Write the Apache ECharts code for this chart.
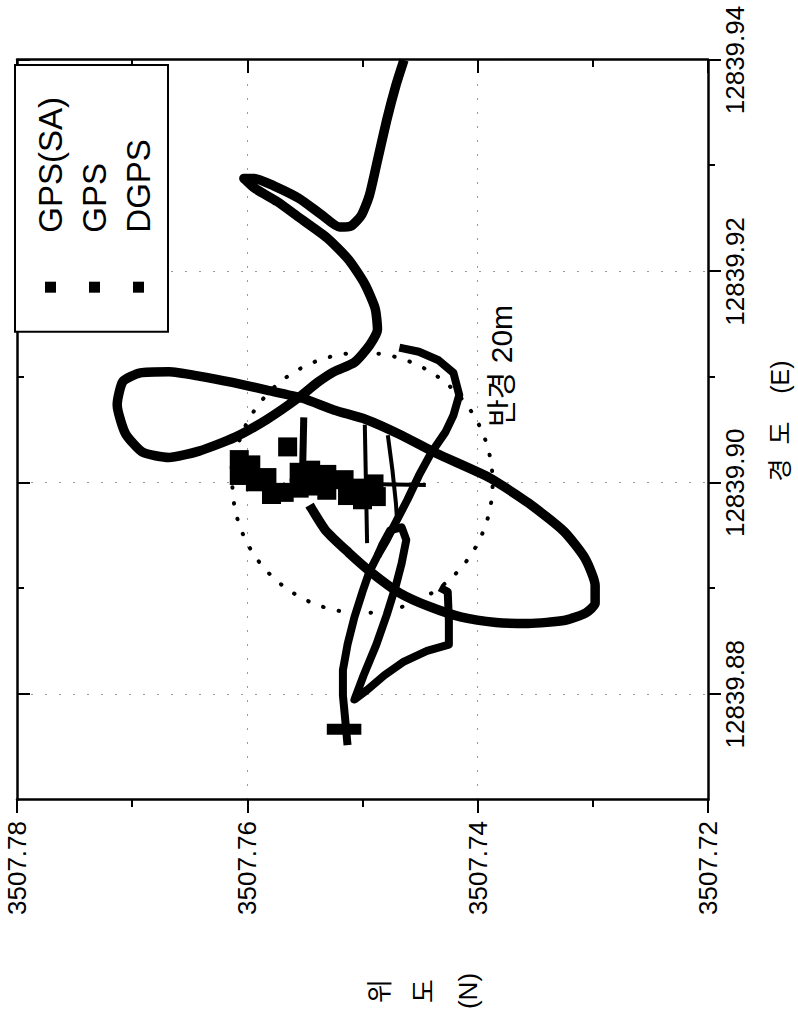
<!DOCTYPE html>
<html>
<head>
<meta charset="utf-8">
<title>GPS track</title>
<script src="https://cdn.jsdelivr.net/npm/echarts@6.0.0/dist/echarts.min.js"></script>
<style>
  html, body { margin: 0; padding: 0; width: 798px; height: 1019px; overflow: hidden; background: #fff; }
  /* the figure is printed turned a quarter turn to the left */
  #chart {
    position: absolute; left: 0; top: 0;
    width: 1019px; height: 798px;
    transform-origin: 0 0;
    transform: translateY(1019px) rotate(-90deg);
  }
</style>
</head>
<body>
<div id="chart"></div>
<script>
// axis ticks
const lonMajor = [12839.88, 12839.90, 12839.92, 12839.94];
const lonMinor = [12839.89, 12839.91, 12839.93];

// GPS(SA) track
const saLon = [12839.9400, 12839.9376, 12839.9343, 12839.9305, 12839.9272, 12839.9253, 12839.9243, 12839.9242, 12839.9254, 12839.9269,
  12839.9281, 12839.9288, 12839.9288, 12839.9279, 12839.9266, 12839.9251, 12839.9232, 12839.9211, 12839.9188, 12839.9165,
  12839.9145, 12839.9130, 12839.9114, 12839.9105, 12839.9095, 12839.9081, 12839.9060, 12839.9043, 12839.9030, 12839.9024,
  12839.9029, 12839.9047, 12839.9074, 12839.9096, 12839.9104, 12839.9105, 12839.9101, 12839.9095, 12839.9088, 12839.9080,
  12839.9069, 12839.9060, 12839.9046, 12839.9028, 12839.9005, 12839.8981, 12839.8954, 12839.8929, 12839.8903, 12839.8886,
  12839.8877, 12839.8870, 12839.8867, 12839.8868, 12839.8873, 12839.8883, 12839.8896, 12839.8915, 12839.8934, 12839.8955,
  12839.8979];
const saLat = [3507.7464, 3507.7471, 3507.7479, 3507.7487, 3507.7494, 3507.7501, 3507.7510, 3507.7520, 3507.7536, 3507.7555,
  3507.7577, 3507.7594, 3507.7603, 3507.7594, 3507.7574, 3507.7555, 3507.7531, 3507.7512, 3507.7498, 3507.7489,
  3507.7487, 3507.7494, 3507.7507, 3507.7525, 3507.7539, 3507.7555, 3507.7583, 3507.7611, 3507.7642, 3507.7668,
  3507.7691, 3507.7706, 3507.7713, 3507.7708, 3507.7693, 3507.7668, 3507.7642, 3507.7613, 3507.7584, 3507.7552,
  3507.7525, 3507.7497, 3507.7468, 3507.7436, 3507.7390, 3507.7356, 3507.7325, 3507.7307, 3507.7298, 3507.7298,
  3507.7306, 3507.7324, 3507.7356, 3507.7384, 3507.7414, 3507.7442, 3507.7468, 3507.7492, 3507.7512, 3507.7532,
  3507.7546];

// GPS track, in pieces
const gps1Lon = [12839.9128, 12839.9124, 12839.9116, 12839.9104, 12839.9083, 12839.9064, 12839.9048, 12839.9029, 12839.9007, 12839.8984,
  12839.8963, 12839.8946, 12839.8931, 12839.8916, 12839.8897, 12839.8873, 12839.8847, 12839.8823, 12839.8799, 12839.8776, 12839.8752];
const gps1Lat = [3507.7468, 3507.7451, 3507.7434, 3507.7421, 3507.7416, 3507.7421, 3507.7428, 3507.7440, 3507.7451, 3507.7461,
  3507.7471, 3507.7479, 3507.7487, 3507.7494, 3507.7500, 3507.7507, 3507.7513, 3507.7517, 3507.7517, 3507.7515, 3507.7513];
const gps2Lon = [12839.8931, 12839.8941, 12839.8955, 12839.8958, 12839.8946, 12839.8924, 12839.8903, 12839.8875, 12839.8847, 12839.8818,
  12839.8795, 12839.8804, 12839.8818, 12839.8831, 12839.8841, 12839.8847, 12839.8870, 12839.8897, 12839.8901];
const gps2Lat = [3507.7487, 3507.7483, 3507.7476, 3507.7466, 3507.7462, 3507.7466, 3507.7471, 3507.7479, 3507.7488, 3507.7499,
  3507.7507, 3507.7496, 3507.7481, 3507.7464, 3507.7444, 3507.7425, 3507.7425, 3507.7426, 3507.7433];
const gps3Lon = [12839.8767, 12839.8767];
const gps3Lat = [3507.7531, 3507.7501];
const gps4Lon = [12839.9062, 12839.9012];
const gps4Lat = [3507.7551, 3507.7552];

// DGPS fixes
const dgpsLon = [12839.9022, 12839.9007, 12839.9017, 12839.9001, 12839.9005, 12839.8989, 12839.8991, 12839.9034, 12839.9010, 12839.8995,
  12839.9012, 12839.8997, 12839.9008, 12839.8993, 12839.9003, 12839.8988, 12839.8995, 12839.8984, 12839.8999, 12839.8987];
const dgpsLat = [3507.7607, 3507.7607, 3507.7597, 3507.7593, 3507.7583, 3507.7579, 3507.7568, 3507.7565, 3507.7555, 3507.7555,
  3507.7545, 3507.7541, 3507.7531, 3507.7531, 3507.7516, 3507.7513, 3507.7503, 3507.7500, 3507.7490, 3507.7488];
// thin DGPS traces
const thin1Lon = [12839.9055, 12839.8943];
const thin1Lat = [3507.7498, 3507.7496];
const thin2Lon = [12839.9045, 12839.9012, 12839.8981, 12839.8965];
const thin2Lat = [3507.7478, 3507.7474, 3507.7471, 3507.7470];
const thin3Lon = [12839.8999, 12839.8998];
const thin3Lat = [3507.7499, 3507.7445];

// 20 m circle round the reference point
const circleCenter = [12839.90, 3507.75];
const circleRadiusLat = 0.0113;
const circleLabelPos = [12839.9053, 3507.7379];

const font = '"Liberation Sans", "Noto Sans CJK KR", sans-serif';
const pairs = (lon, lat) => lon.map((v, i) => [v, lat[i]]);

function lineSeries(name, lon, lat, width, smooth) {
  return {
    name: name,
    type: 'line',
    data: pairs(lon, lat),
    symbol: 'none',
    showSymbol: false,
    smooth: smooth || false,
    lineStyle: { color: '#000', width: width, join: 'round', opacity: 1 },
    itemStyle: { color: '#000' },
    animation: false,
    z: 3
  };
}

const myChart = echarts.init(document.getElementById('chart'), null, { renderer: 'svg' });

const tickStyle = { color: '#000', width: 2 };
const gridDots = { color: '#999', width: 1, type: [2, 12] };

var option = {
  animation: false,
  grid: { left: 219, right: 60, top: 17, bottom: 90 },
  legend: {
    data: ['GPS(SA)', 'GPS', 'DGPS'],
    orient: 'vertical',
    right: 65,
    top: 15,
    icon: 'rect',
    itemWidth: 11,
    itemHeight: 11,
    itemGap: 11,
    padding: [19, 32, 13, 39],
    backgroundColor: '#fff',
    borderColor: '#000',
    borderWidth: 2,
    selectedMode: false,
    itemStyle: { color: '#000', borderWidth: 0, opacity: 1 },
    textStyle: { color: '#000', fontFamily: font, fontSize: 33, lineHeight: 33, padding: [0, 0, 0, 44] },
    z: 10
  },
  xAxis: [
    {
      type: 'value', min: 12839.87, max: 12839.94, position: 'bottom',
      axisLine: { show: true, onZero: false, lineStyle: { color: '#000', width: 2.5 } },
      axisTick: { show: true, customValues: lonMajor, length: 13, lineStyle: tickStyle },
      axisLabel: {
        customValues: lonMajor, formatter: v => v.toFixed(2),
        color: '#000', fontFamily: font, fontSize: 26, margin: 14
      },
      splitLine: { show: true, lineStyle: gridDots }
    },
    {
      type: 'value', min: 12839.87, max: 12839.94, position: 'bottom',
      axisLine: { show: false },
      axisTick: { show: true, customValues: lonMinor, length: 7, lineStyle: tickStyle },
      axisLabel: { show: false },
      splitLine: { show: false }
    },
    {
      type: 'value', min: 12839.87, max: 12839.94, position: 'top',
      axisLine: { show: true, onZero: false, lineStyle: { color: '#000', width: 2.5 } },
      axisTick: { show: true, inside: true, customValues: lonMajor, length: 13, lineStyle: tickStyle },
      axisLabel: { show: false },
      splitLine: { show: false }
    },
    {
      type: 'value', min: 12839.87, max: 12839.94, position: 'top',
      axisLine: { show: false },
      axisTick: { show: true, inside: true, customValues: lonMinor, length: 7, lineStyle: tickStyle },
      axisLabel: { show: false },
      splitLine: { show: false }
    }
  ],
  yAxis: [
    {
      type: 'value', min: 3507.72, max: 3507.78, interval: 0.02, position: 'left',
      axisLine: { show: true, onZero: false, lineStyle: { color: '#000', width: 2.5 } },
      axisTick: { show: true, length: 13, lineStyle: tickStyle },
      minorTick: { show: true, splitNumber: 2, length: 7, lineStyle: tickStyle },
      axisLabel: { formatter: v => v.toFixed(2), color: '#000', fontFamily: font, fontSize: 26, margin: 21 },
      splitLine: { show: true, lineStyle: gridDots }
    },
    {
      type: 'value', min: 3507.72, max: 3507.78, interval: 0.02, position: 'right',
      axisLine: { show: true, onZero: false, lineStyle: { color: '#000', width: 2.5 } },
      axisTick: { show: true, inside: true, length: 13, lineStyle: tickStyle },
      minorTick: { show: true, splitNumber: 2, length: 7, lineStyle: tickStyle },
      axisLabel: { show: false },
      splitLine: { show: false }
    }
  ],
  series: [
    lineSeries('GPS(SA)', saLon, saLat, 9.5, 0.2),
    lineSeries('GPS', gps1Lon, gps1Lat, 8),
    lineSeries('GPS', gps2Lon, gps2Lat, 8),
    lineSeries('GPS', gps3Lon, gps3Lat, 11),
    lineSeries('GPS', gps4Lon, gps4Lat, 7),
    {
      name: 'DGPS',
      type: 'scatter',
      data: pairs(dgpsLon, dgpsLat),
      symbol: 'rect',
      symbolSize: 19,
      itemStyle: { color: '#000', opacity: 1 },
      animation: false,
      z: 3
    },
    lineSeries('DGPS', thin1Lon, thin1Lat, 4),
    lineSeries('DGPS', thin2Lon, thin2Lat, 4),
    lineSeries('DGPS', thin3Lon, thin3Lat, 4)
  ]
};
myChart.setOption(option);

// axis titles, the 20 m circle and its label (circle placed through the axes)
const c = myChart.convertToPixel({ xAxisIndex: 0, yAxisIndex: 0 }, circleCenter);
const e = myChart.convertToPixel({ xAxisIndex: 0, yAxisIndex: 0 }, [circleCenter[0], circleCenter[1] + circleRadiusLat]);
const r = Math.abs(c[1] - e[1]);
const lp = myChart.convertToPixel({ xAxisIndex: 0, yAxisIndex: 0 }, circleLabelPos);
myChart.setOption({
  graphic: {
    elements: [
      {
        id: 'xname', type: 'text', x: 598, y: 780,
        style: { text: '경  도    (E)', font: '25px ' + font, fill: '#000', align: 'center', verticalAlign: 'middle' }
      },
      {
        id: 'yname', type: 'text', x: 28, y: 424,
        style: { text: '위\n도\n(N)', font: '26px ' + font, fill: '#000', align: 'center', verticalAlign: 'middle', lineHeight: 44 }
      },
      {
        id: 'circle', type: 'circle', shape: { cx: c[0], cy: c[1], r: r }, z: 2,
        style: { fill: 'none', stroke: '#000', lineWidth: 4, lineDash: [0.5, 15.5], lineCap: 'round' }
      },
      {
        id: 'circleLabel', type: 'text', x: lp[0], y: lp[1], z: 2,
        style: { text: '반경 20m', font: '30px ' + font, fill: '#000', verticalAlign: 'middle', align: 'left' }
      }
    ]
  }
});
</script>
</body>
</html>
